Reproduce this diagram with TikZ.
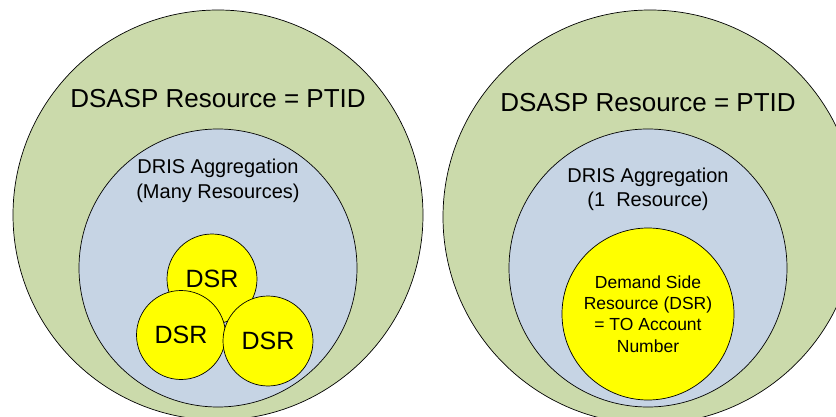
\documentclass[tikz,border=0pt]{standalone}
\usepackage{fontspec}
\setmainfont{Liberation Sans}
\definecolor{ptidgreen}{RGB}{203,218,171}
\definecolor{drisblue}{RGB}{198,212,228}
\definecolor{dsryellow}{RGB}{255,255,0}
\tikzset{ring/.style={circle,draw=black,line width=0.7pt,inner sep=0pt,align=center}}

\begin{document}
\begin{tikzpicture}[x=1pt,y=-1pt]
\useasboundingbox (0,0) rectangle (836,417);
% many resources
\node[ring,fill=ptidgreen,minimum size=410pt] (ptidL) at (218,215) {};
\node[font=\fontsize{26}{30}\selectfont] (ptidLtext) at (218,99) {DSASP Resource = PTID};
\node[ring,fill=drisblue,minimum size=278pt] (drisL) at (218,268) {};
\node[align=center,font=\fontsize{20}{25}\selectfont] (drisLtext) at (218,181) {DRIS Aggregation\\(Many Resources)};
\node[ring,fill=dsryellow,minimum size=90pt,font=\fontsize{25}{30}\selectfont] (dsrA) at (212,279) {DSR};
\node[ring,fill=dsryellow,minimum size=89pt,font=\fontsize{25}{30}\selectfont] (dsrB) at (181,335) {DSR};
\node[ring,fill=dsryellow,minimum size=90pt,font=\fontsize{25}{30}\selectfont] (dsrC) at (268,341) {DSR};
% one resource
\node[ring,fill=ptidgreen,minimum size=414pt] (ptidR) at (650,217) {};
\node[font=\fontsize{26}{30}\selectfont] (ptidRtext) at (648,103) {DSASP Resource = PTID};
\node[ring,fill=drisblue,minimum size=278pt] (drisR) at (648,268) {};
\node[align=center,font=\fontsize{20}{24}\selectfont] (drisRtext) at (648,189) {DRIS Aggregation\\(1\ \ Resource)};
\node[ring,fill=dsryellow,minimum size=172pt,font=\fontsize{17.5}{21.3}\selectfont] (dsrR) at (648,314) {Demand Side\\Resource (DSR)\\= TO Account\\Number};
\end{tikzpicture}
\end{document}
